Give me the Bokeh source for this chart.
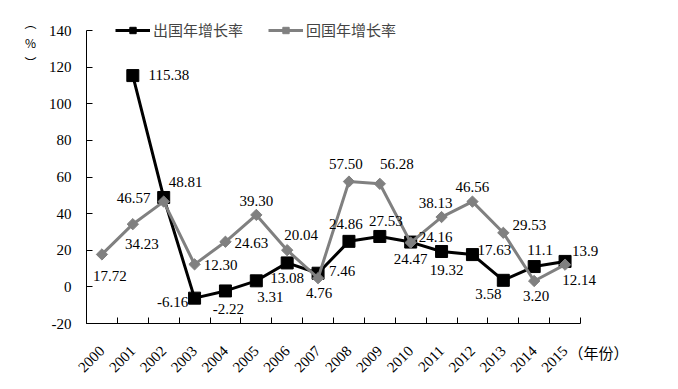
import math
from bokeh.plotting import figure
from bokeh.models import (ColumnDataSource, Range1d, FixedTicker, Legend, LegendItem,
                          Label, LinearAxis)
from bokeh.core.properties import value
from bokeh.embed import file_html
from bokeh.resources import INLINE

years = [2000, 2001, 2002, 2003, 2004, 2005, 2006, 2007, 2008,
         2009, 2010, 2011, 2012, 2013, 2014, 2015]
# 出国年增长率 (from 2001)
out_years = years[1:]
out_vals = [115.38, 48.81, -6.16, -2.22, 3.31, 13.08, 7.46, 24.86,
            27.53, 24.47, 19.32, 17.63, 3.58, 11.1, 13.9]
out_text = ["115.38", "48.81", "-6.16", "-2.22", "3.31", "13.08", "7.46", "24.86",
            "27.53", "24.47", "19.32", "17.63", "3.58", "11.1", "13.9"]
# 回国年增长率
back_vals = [17.72, 34.23, 46.57, 12.30, 24.63, 39.30, 20.04, 4.76,
             57.50, 56.28, 24.16, 38.13, 46.56, 29.53, 3.20, 12.14]
back_text = ["17.72", "34.23", "46.57", "12.30", "24.63", "39.30", "20.04", "4.76",
             "57.50", "56.28", "24.16", "38.13", "46.56", "29.53", "3.20", "12.14"]
y_ticks = [-20, 0, 20, 40, 60, 80, 100, 120, 140]
y_min, y_max = -20, 140

# label placement offsets (screen px)
out_dx = [36, 22, -22, 3, 14, 0, 24, -3, 6, 0, 5, 22, -15, 6, 20]
out_dy = [-1, -15.5, 4, 18, 16, 15, -2, -17, -15, 17, 19, -5, 14, -17, -10]
back_dx = [8, 9, -30, 26, 26, 0, 14, 1, -3, 17, 25, -6, 0, 26, 2, 14]
back_dy = [22, 20, -4, 1, 1, -14, -15, 15, -18, -20, -6, -14, -15, -8, 15, 15]

idx = {y: i for i, y in enumerate(years)}
out_src = ColumnDataSource(dict(x=[idx[y] for y in out_years], y=out_vals, t=out_text,
                                dx=out_dx, dy=out_dy))
back_src = ColumnDataSource(dict(x=[idx[y] for y in years], y=back_vals, t=back_text,
                                 dx=back_dx, dy=back_dy))

# page geometry: plot area spans px 86..580 horizontally, 30..323 vertically
W, H = 678, 389
left_px, right_px, top_px, bot_px = 86, 580, 30, 323
n = len(years)
xs = (right_px - left_px) / n
ys = (bot_px - top_px) / (y_max - y_min)
x0 = -0.5 - left_px / xs
x1 = -0.5 + (W - left_px) / xs
y1 = y_max + top_px / ys
y0 = y_min - (H - bot_px) / ys

p = figure(width=W, height=H, output_backend="svg", toolbar_location=None,
           x_range=Range1d(x0, x1), y_range=Range1d(y0, y1),
           x_axis_location=None, y_axis_location=None,
           min_border=0, min_border_left=0, min_border_right=0,
           min_border_top=0, min_border_bottom=0)
p.outline_line_color = None
p.grid.grid_line_color = None
p.background_fill_color = "white"
p.border_fill_color = "white"

serif = "Liberation Serif"
fs = "15px"

xa = LinearAxis(fixed_location=y_min, bounds=(-0.5, n - 0.5))
xa.ticker = FixedTicker(ticks=list(range(n)),
                        minor_ticks=[i - 0.5 for i in range(n + 1)])
xa.major_label_overrides = {i: str(y) for i, y in enumerate(years)}
xa.major_tick_line_color = None
xa.minor_tick_in = 6
xa.minor_tick_out = 0
xa.minor_tick_line_color = "black"
xa.axis_line_color = "black"
xa.major_label_orientation = math.pi / 4
xa.major_label_text_font = serif
xa.major_label_text_font_size = fs
xa.major_label_text_color = "black"
xa.major_label_standoff = 19
p.add_layout(xa, "below")

ya = LinearAxis(fixed_location=-0.5, bounds=(y_min, y_max))
ya.ticker = FixedTicker(ticks=y_ticks)
ya.major_label_overrides = {t: str(t) for t in y_ticks}
ya.major_tick_in = 6
ya.major_tick_out = 0
ya.major_tick_line_color = "black"
ya.minor_tick_line_color = None
ya.axis_line_color = "black"
ya.major_label_text_font = serif
ya.major_label_text_font_size = fs
ya.major_label_text_color = "black"
ya.major_label_standoff = 15
p.add_layout(ya, "left")

l1 = p.line("x", "y", source=out_src, line_color="black", line_width=3)
m1 = p.scatter("x", "y", source=out_src, marker="square", size=12,
               fill_color="black", line_color="black")
l2 = p.line("x", "y", source=back_src, line_color="#808080", line_width=3)
m2 = p.scatter("x", "y", source=back_src, marker="square", angle=math.pi / 4, size=8,
               fill_color="#808080", line_color="#808080")

for src in (out_src, back_src):
    p.text("x", "y", text="t", source=src, x_offset="dx", y_offset="dy",
           text_font=value(serif), text_font_size=fs, text_color="black",
           text_align="center", text_baseline="middle")

legend = Legend(items=[LegendItem(label="出国年增长率", renderers=[l1, m1]),
                       LegendItem(label="回国年增长率", renderers=[l2, m2])],
                orientation="horizontal", location=(115, H - 24 - 16),
                label_text_font="Noto Sans CJK SC", label_text_font_size="15px",
                glyph_width=35, glyph_height=16, label_standoff=3, spacing=25,
                padding=0, margin=0, border_line_color=None,
                background_fill_alpha=0)
p.add_layout(legend)

p.add_layout(Label(x=-0.5 - (left_px - 30) / xs, y=y_max - (42 - top_px) / ys,
                   text="︵\n%\n︶", text_font="Noto Sans CJK SC",
                   text_font_size="12px", text_align="center", text_baseline="middle",
                   text_color="black"))
p.add_layout(Label(x=-0.5 + (598 - left_px) / xs, y=y_min - (352 - bot_px) / ys,
                   text="（年份）", text_font="Noto Sans CJK SC",
                   text_font_size="15px", text_align="center", text_baseline="middle",
                   text_color="black"))

open("out.html", "w").write(file_html(p, INLINE))
